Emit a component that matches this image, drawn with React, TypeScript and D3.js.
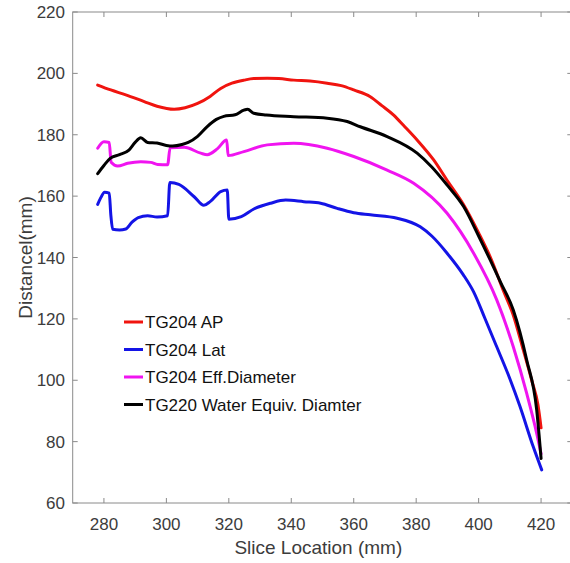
import React from "react";
import * as d3 from "d3";

const xTicks = [280, 300, 320, 340, 360, 380, 400, 420];
const yTicks = [60, 80, 100, 120, 140, 160, 180, 200, 220];

const apX = [278, 282.2, 287, 292.9, 297, 302.5, 306, 310, 314, 317.4, 321, 324.9, 328, 332.3, 336, 340.8, 346, 351.5, 356, 360, 365.3, 369, 372.8, 376, 380.3, 385.6, 390, 395, 400, 404, 408, 411, 414, 417, 419, 420];
const apY = [196.2, 194.6, 193, 190.8, 189.3, 188.3, 188.8, 190.2, 192.5, 195.1, 196.8, 197.8, 198.3, 198.4, 198.3, 197.8, 197.5, 196.8, 196, 194.6, 192.4, 189.5, 186.4, 183, 178.3, 171.8, 165, 157.5, 148, 139.5, 129, 121.5, 111, 100, 92, 84.5];

const latX = [278, 279, 280.2, 281.7, 282.2, 282.8, 285, 287, 289, 291, 294, 297, 300.4, 301.1, 304, 308.9, 312, 314, 317.4, 319.5, 320, 324, 328, 333.4, 338.2, 344, 349.4, 354.7, 360, 365.3, 373.9, 381.3, 385, 389.9, 395, 398.4, 402, 405.8, 410, 413.2, 417.5, 420.2];
const latY = [157.3, 159.5, 161.3, 161, 154, 149.2, 149, 149.3, 151.5, 153, 153.6, 153.2, 153.6, 164.4, 163.8, 159.8, 157, 158.2, 161.5, 162, 152.5, 153.3, 155.8, 157.7, 158.7, 158.2, 157.7, 156, 154.6, 153.9, 152.8, 150, 147, 141.4, 134.5, 128.8, 120.2, 110.9, 100.5, 91.6, 78.3, 70.8];

const effX = [278, 280, 281.7, 282.3, 284.4, 287.6, 291.8, 295, 297.2, 300.4, 301.2, 305.7, 311, 313.1, 316.3, 319.3, 319.8, 324.8, 332.3, 340.8, 351.5, 360, 370.7, 379.2, 389.9, 398.4, 405.8, 411.1, 415.4, 418.6, 420];
const effY = [175.6, 177.7, 177.5, 171, 169.8, 170.7, 171.2, 171, 170.3, 170.2, 175.8, 175.9, 174, 173.5, 175.4, 178.3, 173.2, 174.5, 176.7, 177.2, 175.6, 172.9, 168.5, 164.2, 154.4, 141.4, 126.2, 110.9, 95.7, 82.7, 76];

const wedX = [278, 280, 282, 285, 288, 290, 291.8, 294, 297, 300, 302, 305, 307, 310, 313, 316, 318.4, 322, 324.8, 326, 328, 332, 340.8, 351.5, 357.9, 362.1, 370.7, 380.3, 385, 390, 395.2, 400, 403.7, 407, 411.1, 415.4, 418.6, 420];
const wedY = [167.3, 170, 172.3, 173.5, 175, 177.5, 179, 177.5, 177.3, 176.5, 176.3, 176.8, 177.5, 179.5, 182.6, 185, 186, 186.5, 188, 188.3, 187, 186.4, 185.9, 185.4, 184.3, 182.6, 179.4, 174, 169.5, 163.5, 156.6, 147, 139.2, 132, 122.9, 106.6, 90.3, 74.5];

const seriesNames = ["TG204 AP", "TG204 Lat", "TG204 Eff.Diameter", "TG220 Water Equiv. Diamter"];
const seriesColors = ["#f0140f", "#1414e6", "#f014f0", "#000000"];

const W = 570;
const H = 563;
const left = 72.7;
const right = 572.3;
const top = 12;
const bottom = 503;

export default function App() {
  const x = d3.scaleLinear().domain([270, 430]).range([left, right]);
  const y = d3.scaleLinear().domain([60, 220]).range([bottom, top]);
  const line = d3
    .line<[number, number]>()
    .x((d) => x(d[0]))
    .y((d) => y(d[1]))
    .curve(d3.curveMonotoneX);

  const series = [
    { xs: apX, ys: apY },
    { xs: latX, ys: latY },
    { xs: effX, ys: effY },
    { xs: wedX, ys: wedY },
  ];

  const axisColor = "#8a8a8a";
  const textColor = "#3c3c3c";
  const font = "'Liberation Sans', Arial, Helvetica, sans-serif";
  const tl = 5;

  return (
    <div style={{ position: "absolute", left: 0, top: 0 }}>
      <svg width={W} height={H} style={{ display: "block", background: "#fff" }}>
        <rect x={0} y={0} width={W} height={H} fill="#fff" />
        <rect x={left} y={top} width={right - left} height={bottom - top} fill="none" stroke={axisColor} strokeWidth={1} />
        {xTicks.map((t) => (
          <g key={"xt" + t}>
            <line x1={x(t)} x2={x(t)} y1={bottom} y2={bottom - tl} stroke={axisColor} />
            <line x1={x(t)} x2={x(t)} y1={top} y2={top + tl} stroke={axisColor} />
            <text x={x(t)} y={530} textAnchor="middle" fontSize={17} fill={textColor} fontFamily={font}>
              {t}
            </text>
          </g>
        ))}
        {yTicks.map((t) => (
          <g key={"yt" + t}>
            <line x1={left} x2={left + tl} y1={y(t)} y2={y(t)} stroke={axisColor} />
            <line x1={right} x2={right - tl} y1={y(t)} y2={y(t)} stroke={axisColor} />
            <text x={65} y={y(t) + 6} textAnchor="end" fontSize={17} fill={textColor} fontFamily={font}>
              {t}
            </text>
          </g>
        ))}
        <text x={(left + 541 + 31) / 2 - 4} y={554} textAnchor="middle" fontSize={19} fill={textColor} fontFamily={font}>
          Slice Location (mm)
        </text>
        <text
          transform={`translate(32, ${(top + bottom) / 2}) rotate(-90)`}
          textAnchor="middle"
          fontSize={19}
          fill={textColor}
          fontFamily={font}
        >
          Distancel(mm)
        </text>
        {series.map((s, i) => (
          <path
            key={"s" + i}
            d={line(s.xs.map((v, j) => [v, s.ys[j]] as [number, number])) || ""}
            fill="none"
            stroke={seriesColors[i]}
            strokeWidth={3}
            strokeLinejoin="round"
            strokeLinecap="round"
          />
        ))}
        {seriesNames.map((n, i) => {
          const cy = 322 + i * 27.5;
          return (
            <g key={"lg" + i}>
              <line x1={124} x2={143} y1={cy} y2={cy} stroke={seriesColors[i]} strokeWidth={3} />
              <text x={145} y={cy + 6} fontSize={17} fill="#111" fontFamily={font}>
                {n}
              </text>
            </g>
          );
        })}
      </svg>
    </div>
  );
}
